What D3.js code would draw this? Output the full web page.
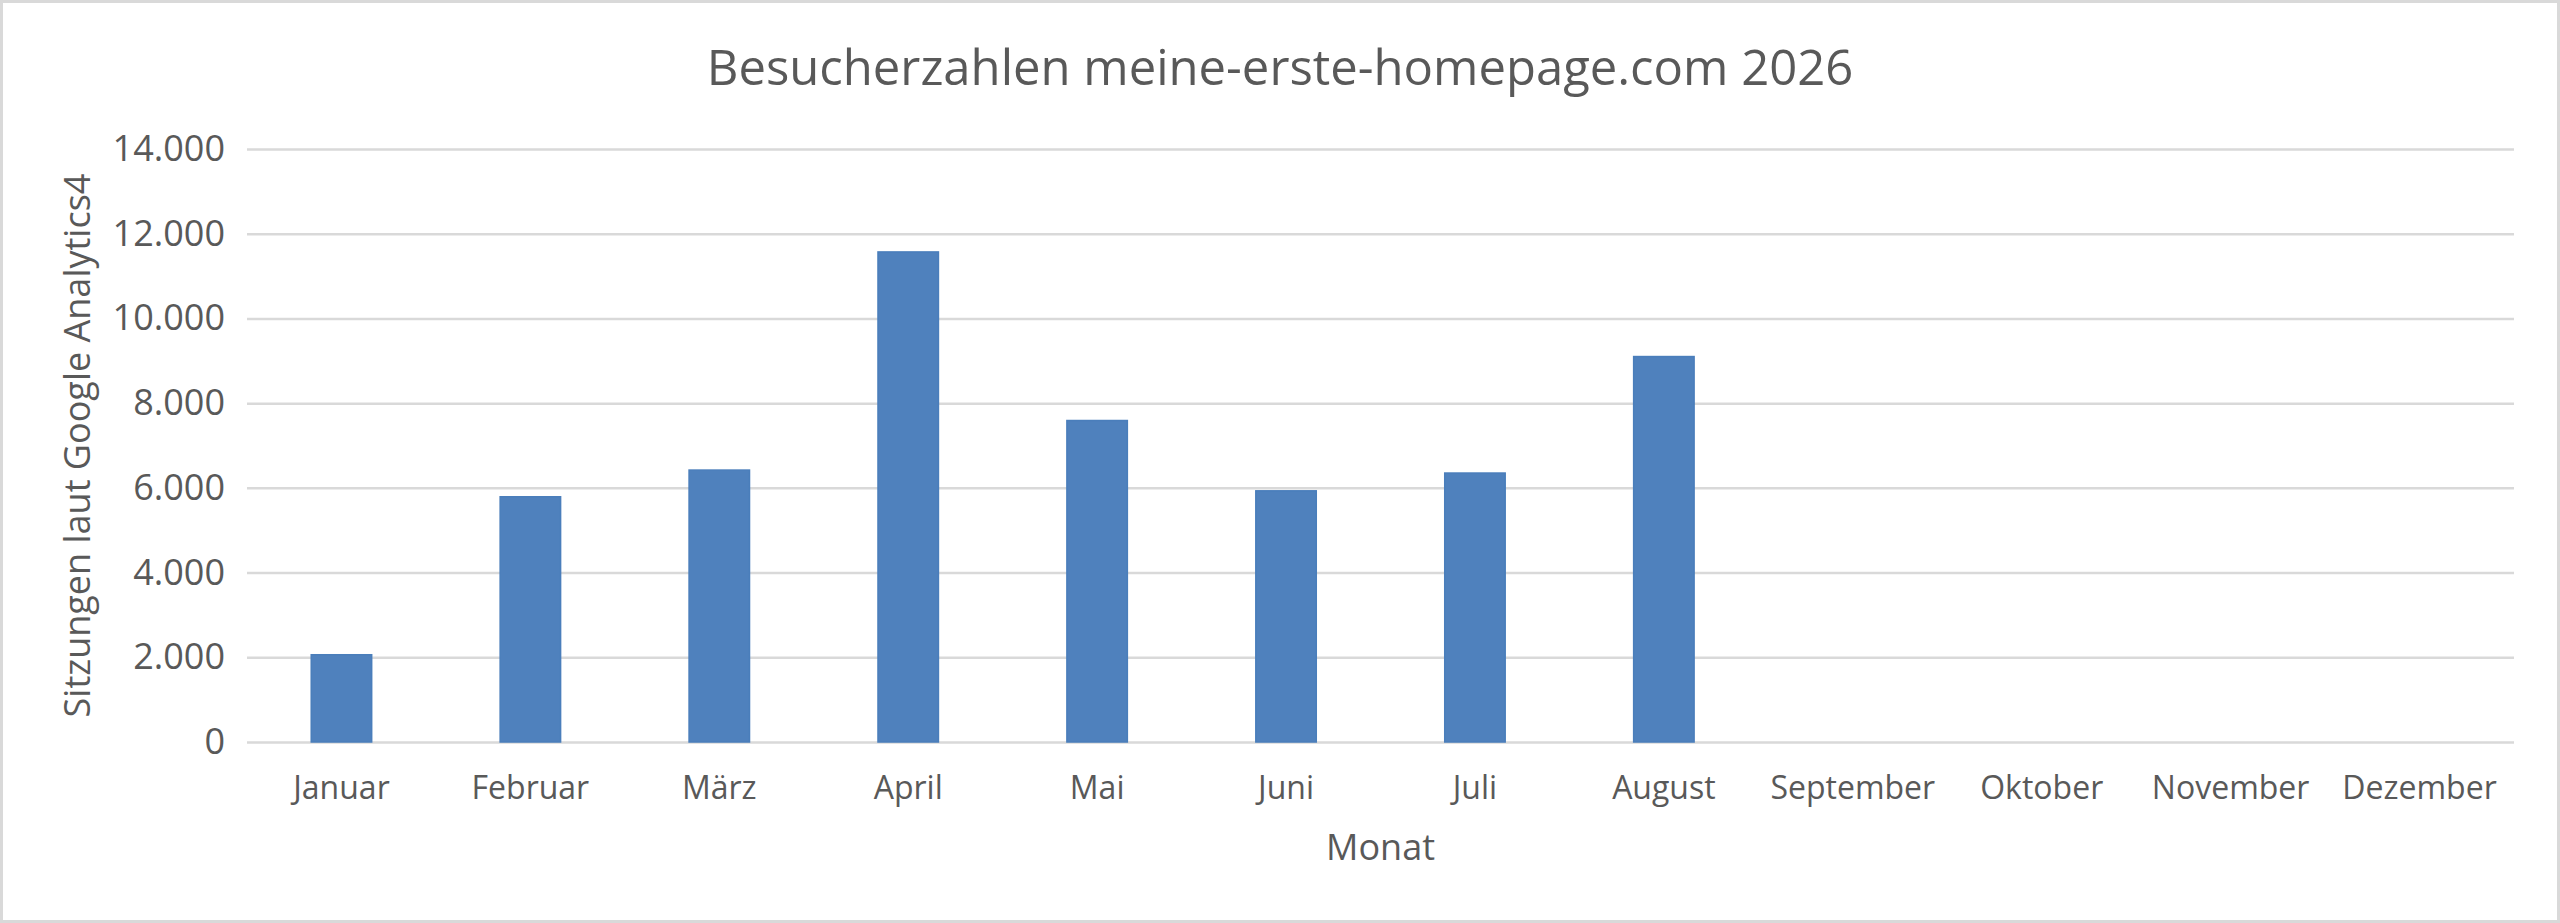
<!DOCTYPE html>
<html>
<head>
<meta charset="utf-8">
<script src="https://cdn.jsdelivr.net/npm/d3@7"></script>
<style>
  html, body { margin: 0; padding: 0; background: #fff; }
  svg text { font-family: "Open Sans", "DejaVu Sans", sans-serif; fill: #595959; }
</style>
</head>
<body>
<div id="chart"></div>
<script>
// chart data
var months = ["Januar", "Februar", "März", "April", "Mai", "Juni",
  "Juli", "August", "September", "Oktober", "November", "Dezember"];
var sessions = [2060, 5790, 6420, 11570, 7590, 5930, 6350, 9100, null, null, null, null];
var yTicks = [0, 2000, 4000, 6000, 8000, 10000, 12000, 14000];

var svgWidth = 2560;
var svgHeight = 923;

var margin = {
  top: 149,
  bottom: 181,
  left: 247,
  right: 46
};

var width = svgWidth - margin.left - margin.right;
var height = svgHeight - margin.top - margin.bottom;

var svg = d3.select("#chart")
  .append("svg")
  .attr("width", svgWidth)
  .attr("height", svgHeight);

// outer border
svg.append("rect")
  .attr("x", 1.5)
  .attr("y", 1.5)
  .attr("width", svgWidth - 3)
  .attr("height", svgHeight - 3)
  .attr("fill", "#fff")
  .attr("stroke", "#d9d9d9")
  .attr("stroke-width", 3);

var chartGroup = svg.append("g")
  .attr("transform", `translate(${margin.left}, ${margin.top})`);

// scales
var xScale = d3.scaleBand()
  .domain(months)
  .range([0, width])
  .paddingInner(0.68)
  .paddingOuter(0.34);

var yScale = d3.scaleLinear()
  .domain([0, 14000])
  .range([height, 0]);

// german number format with dot as thousands separator
var de = d3.formatLocale({ decimal: ",", thousands: ".", grouping: [3], currency: ["", " €"] });
var fmt = de.format(",d");

// gridlines
chartGroup.append("g")
  .attr("class", "grid")
  .call(d3.axisLeft(yScale).tickValues(yTicks).tickSize(-width).tickFormat(""))
  .call(g => g.select(".domain").remove())
  .call(g => g.selectAll("line").attr("stroke", "#d9d9d9").attr("stroke-width", 2.5));

// y axis labels
chartGroup.append("g")
  .call(d3.axisLeft(yScale).tickValues(yTicks).tickSize(0).tickPadding(22).tickFormat(fmt))
  .call(g => g.select(".domain").remove())
  .call(g => g.selectAll("text")
    .style("font-size", "36px")
    .attr("fill", "#595959"));

// x axis labels
chartGroup.append("g")
  .attr("transform", `translate(0, ${height})`)
  .call(d3.axisBottom(xScale).tickSize(0).tickPadding(34))
  .call(g => g.select(".domain").remove())
  .call(g => g.selectAll("text")
    .style("font-size", "32px")
    .attr("fill", "#595959"));

// bars
chartGroup.selectAll("rect.bar")
  .data(months.map((m, i) => ({ month: m, value: sessions[i] })).filter(d => d.value != null))
  .enter()
  .append("rect")
  .attr("class", "bar")
  .attr("x", d => xScale(d.month))
  .attr("y", d => yScale(d.value))
  .attr("width", xScale.bandwidth())
  .attr("height", d => height - yScale(d.value))
  .attr("fill", "#4f81bd")
  .attr("stroke", "#4a7ebb")
  .attr("stroke-width", 1.5);

// title
svg.append("text")
  .attr("x", svgWidth / 2)
  .attr("y", 85)
  .attr("text-anchor", "middle")
  .style("font-size", "49px")
  .text("Besucherzahlen meine-erste-homepage.com 2026");

// x axis title
svg.append("text")
  .attr("x", margin.left + width / 2)
  .attr("y", 860)
  .attr("text-anchor", "middle")
  .style("font-size", "36px")
  .text("Monat");

// y axis title
svg.append("text")
  .attr("transform", `translate(90, ${margin.top + height / 2}) rotate(-90)`)
  .attr("text-anchor", "middle")
  .style("font-size", "36px")
  .text("Sitzungen laut Google Analytics4");
</script>
</body>
</html>
